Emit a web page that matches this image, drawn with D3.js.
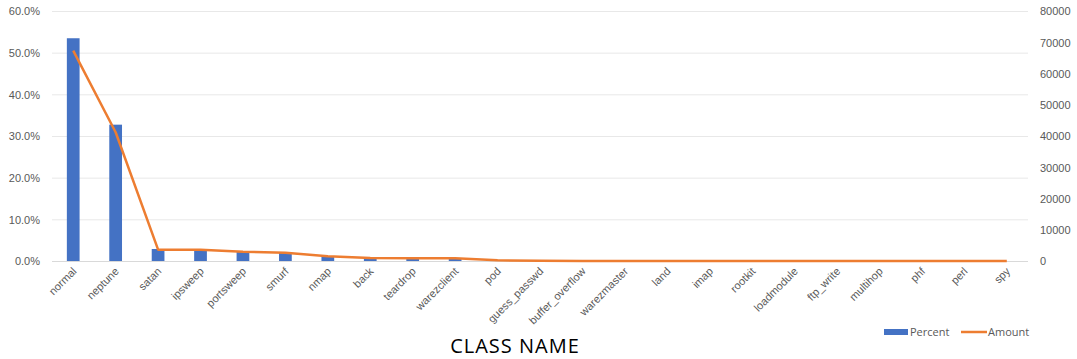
<!DOCTYPE html>
<html lang="en">
<head>
<meta charset="UTF-8">
<title>Class distribution</title>
<script src="https://d3js.org/d3.v7.min.js"></script>
<style>
    body { margin: 0; background: #fff; font-family: 'Open Sans', 'Noto Sans', sans-serif; }
    .axis text { fill: #595959; font-size: 11px; }
    .axis path, .axis line { display: none; }
</style>
</head>
<body>
<svg id="chart"></svg>
<script>
    const categories = ["normal", "neptune", "satan", "ipsweep", "portsweep", "smurf", "nmap", "back",
        "teardrop", "warezclient", "pod", "guess_passwd", "buffer_overflow", "warezmaster", "land",
        "imap", "rootkit", "loadmodule", "ftp_write", "multihop", "phf", "perl", "spy"];
    const percent = [53.46, 32.72, 2.88, 2.86, 2.33, 2.10, 1.19, 0.76, 0.71, 0.71, 0.16, 0.04,
        0.02, 0.02, 0.01, 0.01, 0.01, 0.01, 0.01, 0.01, 0.00, 0.00, 0.00];
    const amount = [67343, 41214, 3633, 3599, 2931, 2646, 1493, 956, 892, 890, 201, 53,
        30, 20, 18, 11, 10, 9, 8, 7, 4, 3, 2];
    const leftTicks = [0, 10, 20, 30, 40, 50, 60];
    const rightTicks = [0, 10000, 20000, 30000, 40000, 50000, 60000, 70000, 80000];

    const W = 1077, H = 359;
    const margin = { top: 11, right: 49, bottom: 98, left: 52 };
    const width = W - margin.left - margin.right;
    const height = H - margin.top - margin.bottom;

    const svg = d3.select("#chart").attr("width", W).attr("height", H);
    const g = svg.append("g").attr("transform", `translate(${margin.left},${margin.top})`);

    const x = d3.scaleBand().domain(categories).range([0, width]).paddingInner(0.7).paddingOuter(0.35);
    const xc = d => x(d) + x.bandwidth() / 2;
    const yL = d3.scaleLinear().domain([0, 60]).range([height, 0]);
    const yR = d3.scaleLinear().domain([0, 80000]).range([height, 0]);

    // gridlines
    g.append("g")
        .selectAll("line").data(leftTicks).join("line")
        .attr("x1", 0).attr("x2", width)
        .attr("y1", d => yL(d) + 0.5).attr("y2", d => yL(d) + 0.5)
        .attr("stroke", d => d === 0 ? "#d9d9d9" : "#e8e8e8");

    // axes
    g.append("g").attr("class", "axis")
        .call(d3.axisLeft(yL).tickValues(leftTicks).tickFormat(d => d.toFixed(1) + "%").tickSize(0).tickPadding(12))
        .selectAll("text").attr("dy", "0.35em");

    g.append("g").attr("class", "axis").attr("transform", `translate(${width},0)`)
        .call(d3.axisRight(yR).tickValues(rightTicks).tickFormat(d3.format("d")).tickSize(0).tickPadding(12))
        .selectAll("text").attr("dy", "0.35em");

    const xAxis = g.append("g").attr("class", "axis").attr("transform", `translate(0,${height})`)
        .call(d3.axisBottom(x).tickSize(0).tickPadding(0));
    xAxis.selectAll("text")
        .attr("text-anchor", "end")
        .attr("dy", null)
        .attr("transform", "translate(4,11) rotate(-45)");

    // bars
    g.selectAll(".bar").data(categories).join("rect")
        .attr("class", "bar")
        .attr("x", d => x(d))
        .attr("width", x.bandwidth())
        .attr("y", (d, i) => yL(percent[i]))
        .attr("height", (d, i) => height - yL(percent[i]))
        .attr("fill", "#4472C4");

    // amount line
    const line = d3.line()
        .x(d => xc(d[0]))
        .y(d => yR(d[1]));
    g.append("path")
        .datum(categories.map((c, i) => [c, amount[i]]))
        .attr("fill", "none")
        .attr("stroke", "#ED7D31")
        .attr("stroke-width", 2.5)
        .attr("stroke-linejoin", "round")
        .attr("d", line);

    // legend
    const legend = svg.append("g").attr("transform", "translate(884,332)");
    legend.append("rect").attr("x", 0).attr("y", -3).attr("width", 24).attr("height", 6).attr("fill", "#4472C4");
    legend.append("text").attr("x", 26).attr("y", 0).attr("dy", "0.35em")
        .attr("fill", "#595959").style("font-size", "11px").text("Percent");
    legend.append("line").attr("x1", 77).attr("x2", 103).attr("y1", 0).attr("y2", 0)
        .attr("stroke", "#ED7D31").attr("stroke-width", 2.5);
    legend.append("text").attr("x", 104).attr("y", 0).attr("dy", "0.35em")
        .attr("fill", "#595959").style("font-size", "11px").text("Amount");

    // x title
    svg.append("text")
        .attr("x", 515).attr("y", 353)
        .attr("text-anchor", "middle")
        .attr("fill", "#000")
        .style("font-size", "20px")
        .style("letter-spacing", "1px")
        .text("CLASS NAME");
</script>
</body>
</html>
